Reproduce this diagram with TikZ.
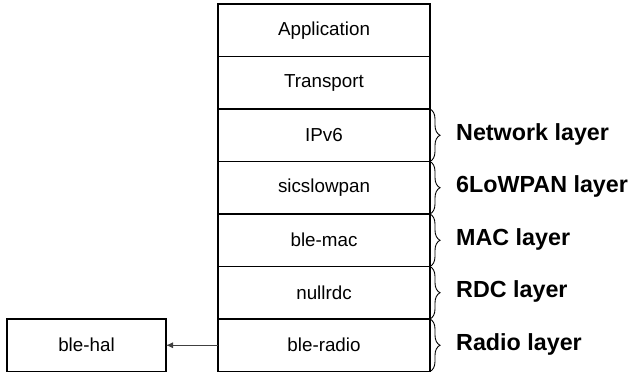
\documentclass[tikz,border=0pt]{standalone}
\usepackage{fontspec}
\setmainfont{Liberation Sans}
\usetikzlibrary{decorations.pathreplacing,arrows.meta}
\begin{document}
\begin{tikzpicture}[x=1pt,y=1pt,
  layerbox/.style={draw, line width=1.4pt, minimum width=212pt, minimum height=52.5pt,
    inner sep=0pt, outer sep=0pt, font=\fontsize{18.8}{22}\selectfont},
  halbox/.style={layerbox, minimum width=159pt},
  layerbrace/.style={decorate, decoration={brace, amplitude=10pt}, line width=0.9pt},
  layername/.style={anchor=west, inner sep=0pt, font=\fontsize{23.3}{27}\selectfont\bfseries},
  link/.style={-{Latex[length=7pt,width=6pt]}, line width=0.9pt, draw=black!75}]
\useasboundingbox (0,0) rectangle (632,376);
% protocol stack, top to bottom
\node[layerbox] (app)   at (324,345.75) {Application};
\node[layerbox] (trans) at (324,293.25) {Transport};
\node[layerbox] (ipv6)  at (324,240.75) {IPv6};
\node[layerbox] (sics)  at (324,188.25) {sicslowpan};
\node[layerbox] (mac)   at (324,135.75) {ble-mac};
\node[layerbox] (rdc)   at (324,83.25)  {nullrdc};
\node[layerbox] (radio) at (324,30.75)  {ble-radio};
% hardware abstraction
\node[halbox] (hal) at (86.5,30.75) {ble-hal};
\draw[link] (radio.west) -- (hal.east);
% braces and layer names
\foreach \b/\t in {ipv6/Network layer, sics/6LoWPAN layer, mac/MAC layer, rdc/RDC layer, radio/Radio layer}{
  \draw[layerbrace] (\b.north east) -- (\b.south east);
  \node[layername] at ([xshift=26pt,yshift=1pt]\b.east) {\t};
}
\end{tikzpicture}
\end{document}
